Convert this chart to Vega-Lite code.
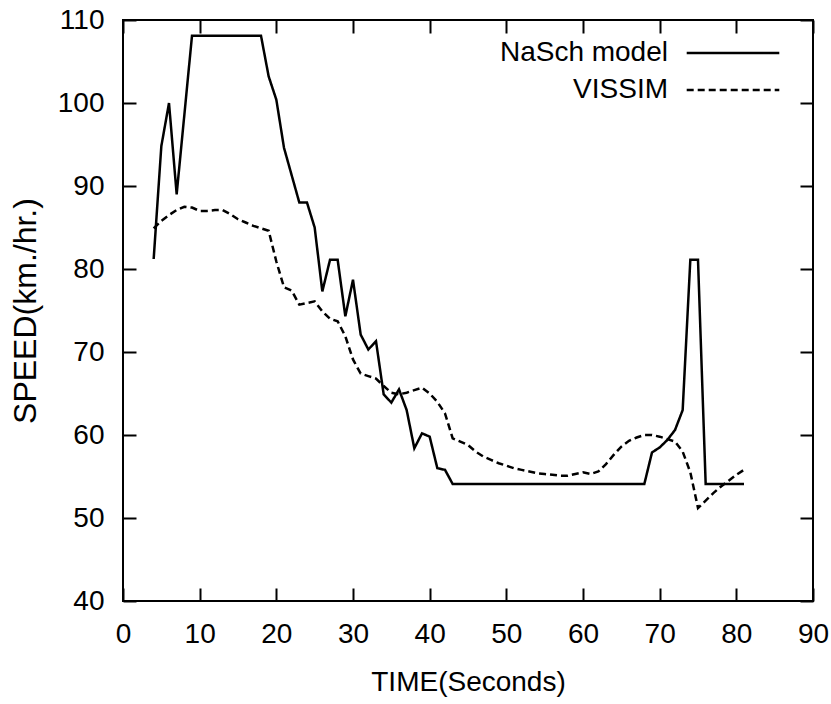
{
  "$schema": "https://vega.github.io/schema/vega-lite/v6.json",
  "autosize": "none",
  "width": 690,
  "height": 581,
  "padding": {"left": 123, "top": 20, "right": 18, "bottom": 103},
  "background": "white",
  "config": {
    "font": "Liberation Sans",
    "view": {"stroke": "black", "strokeWidth": 2},
    "axis": {
      "domain": false,
      "offset": -13,
      "ticks": true, "tickSize": 13, "tickColor": "black", "tickWidth": 2,
      "grid": false,
      "labelFont": "Liberation Sans", "labelFontSize": 28, "labelColor": "black",
      "titleFont": "Liberation Sans", "titleFontSize": 28, "titleColor": "black", "titleFontWeight": "normal",
      "labelFlush": false, "labelOverlap": false
    }
  },
  "datasets": {
    "speed": [
      {"t": 4, "v": 81.2, "series": "NaSch model"},
      {"t": 5, "v": 94.8, "series": "NaSch model"},
      {"t": 6, "v": 100.0, "series": "NaSch model"},
      {"t": 7, "v": 89.0, "series": "NaSch model"},
      {"t": 9, "v": 108.1, "series": "NaSch model"},
      {"t": 18, "v": 108.1, "series": "NaSch model"},
      {"t": 19, "v": 103.2, "series": "NaSch model"},
      {"t": 20, "v": 100.4, "series": "NaSch model"},
      {"t": 21, "v": 94.6, "series": "NaSch model"},
      {"t": 23, "v": 88.0, "series": "NaSch model"},
      {"t": 24, "v": 88.0, "series": "NaSch model"},
      {"t": 25, "v": 85.0, "series": "NaSch model"},
      {"t": 26, "v": 77.3, "series": "NaSch model"},
      {"t": 27, "v": 81.1, "series": "NaSch model"},
      {"t": 28, "v": 81.1, "series": "NaSch model"},
      {"t": 29, "v": 74.3, "series": "NaSch model"},
      {"t": 30, "v": 78.7, "series": "NaSch model"},
      {"t": 31, "v": 72.1, "series": "NaSch model"},
      {"t": 32, "v": 70.3, "series": "NaSch model"},
      {"t": 33, "v": 71.3, "series": "NaSch model"},
      {"t": 34, "v": 64.9, "series": "NaSch model"},
      {"t": 35, "v": 63.9, "series": "NaSch model"},
      {"t": 36, "v": 65.5, "series": "NaSch model"},
      {"t": 37, "v": 63.0, "series": "NaSch model"},
      {"t": 38, "v": 58.4, "series": "NaSch model"},
      {"t": 39, "v": 60.2, "series": "NaSch model"},
      {"t": 40, "v": 59.8, "series": "NaSch model"},
      {"t": 41, "v": 56.0, "series": "NaSch model"},
      {"t": 42, "v": 55.8, "series": "NaSch model"},
      {"t": 43, "v": 54.1, "series": "NaSch model"},
      {"t": 68, "v": 54.1, "series": "NaSch model"},
      {"t": 69, "v": 57.9, "series": "NaSch model"},
      {"t": 70, "v": 58.5, "series": "NaSch model"},
      {"t": 71, "v": 59.4, "series": "NaSch model"},
      {"t": 72, "v": 60.6, "series": "NaSch model"},
      {"t": 73, "v": 63.0, "series": "NaSch model"},
      {"t": 74, "v": 81.1, "series": "NaSch model"},
      {"t": 75, "v": 81.1, "series": "NaSch model"},
      {"t": 76, "v": 54.1, "series": "NaSch model"},
      {"t": 81, "v": 54.1, "series": "NaSch model"},
      {"t": 4, "v": 84.9, "series": "VISSIM"},
      {"t": 5, "v": 85.8, "series": "VISSIM"},
      {"t": 6, "v": 86.5, "series": "VISSIM"},
      {"t": 7, "v": 87.1, "series": "VISSIM"},
      {"t": 8, "v": 87.5, "series": "VISSIM"},
      {"t": 9, "v": 87.4, "series": "VISSIM"},
      {"t": 10, "v": 87.0, "series": "VISSIM"},
      {"t": 11, "v": 87.0, "series": "VISSIM"},
      {"t": 12, "v": 87.1, "series": "VISSIM"},
      {"t": 13, "v": 87.1, "series": "VISSIM"},
      {"t": 14, "v": 86.6, "series": "VISSIM"},
      {"t": 15, "v": 86.0, "series": "VISSIM"},
      {"t": 16, "v": 85.6, "series": "VISSIM"},
      {"t": 17, "v": 85.2, "series": "VISSIM"},
      {"t": 18, "v": 84.9, "series": "VISSIM"},
      {"t": 19, "v": 84.6, "series": "VISSIM"},
      {"t": 20, "v": 80.9, "series": "VISSIM"},
      {"t": 21, "v": 77.8, "series": "VISSIM"},
      {"t": 22, "v": 77.4, "series": "VISSIM"},
      {"t": 23, "v": 75.7, "series": "VISSIM"},
      {"t": 24, "v": 75.9, "series": "VISSIM"},
      {"t": 25, "v": 76.1, "series": "VISSIM"},
      {"t": 26, "v": 74.9, "series": "VISSIM"},
      {"t": 27, "v": 74.0, "series": "VISSIM"},
      {"t": 28, "v": 73.7, "series": "VISSIM"},
      {"t": 29, "v": 71.9, "series": "VISSIM"},
      {"t": 30, "v": 69.1, "series": "VISSIM"},
      {"t": 31, "v": 67.4, "series": "VISSIM"},
      {"t": 32, "v": 67.1, "series": "VISSIM"},
      {"t": 33, "v": 66.8, "series": "VISSIM"},
      {"t": 34, "v": 65.9, "series": "VISSIM"},
      {"t": 35, "v": 65.1, "series": "VISSIM"},
      {"t": 36, "v": 64.9, "series": "VISSIM"},
      {"t": 37, "v": 65.1, "series": "VISSIM"},
      {"t": 38, "v": 65.4, "series": "VISSIM"},
      {"t": 39, "v": 65.7, "series": "VISSIM"},
      {"t": 40, "v": 65.0, "series": "VISSIM"},
      {"t": 41, "v": 64.0, "series": "VISSIM"},
      {"t": 42, "v": 62.6, "series": "VISSIM"},
      {"t": 43, "v": 59.6, "series": "VISSIM"},
      {"t": 44, "v": 59.2, "series": "VISSIM"},
      {"t": 45, "v": 58.8, "series": "VISSIM"},
      {"t": 46, "v": 58.0, "series": "VISSIM"},
      {"t": 47, "v": 57.4, "series": "VISSIM"},
      {"t": 48, "v": 57.0, "series": "VISSIM"},
      {"t": 49, "v": 56.6, "series": "VISSIM"},
      {"t": 50, "v": 56.3, "series": "VISSIM"},
      {"t": 51, "v": 56.0, "series": "VISSIM"},
      {"t": 52, "v": 55.8, "series": "VISSIM"},
      {"t": 53, "v": 55.6, "series": "VISSIM"},
      {"t": 54, "v": 55.4, "series": "VISSIM"},
      {"t": 55, "v": 55.3, "series": "VISSIM"},
      {"t": 56, "v": 55.2, "series": "VISSIM"},
      {"t": 57, "v": 55.1, "series": "VISSIM"},
      {"t": 58, "v": 55.1, "series": "VISSIM"},
      {"t": 59, "v": 55.3, "series": "VISSIM"},
      {"t": 60, "v": 55.5, "series": "VISSIM"},
      {"t": 61, "v": 55.3, "series": "VISSIM"},
      {"t": 62, "v": 55.6, "series": "VISSIM"},
      {"t": 63, "v": 56.5, "series": "VISSIM"},
      {"t": 64, "v": 57.6, "series": "VISSIM"},
      {"t": 65, "v": 58.6, "series": "VISSIM"},
      {"t": 66, "v": 59.3, "series": "VISSIM"},
      {"t": 67, "v": 59.7, "series": "VISSIM"},
      {"t": 68, "v": 60.0, "series": "VISSIM"},
      {"t": 69, "v": 60.0, "series": "VISSIM"},
      {"t": 70, "v": 59.8, "series": "VISSIM"},
      {"t": 71, "v": 59.5, "series": "VISSIM"},
      {"t": 72, "v": 59.2, "series": "VISSIM"},
      {"t": 73, "v": 58.0, "series": "VISSIM"},
      {"t": 74, "v": 55.5, "series": "VISSIM"},
      {"t": 75, "v": 51.2, "series": "VISSIM"},
      {"t": 76, "v": 52.1, "series": "VISSIM"},
      {"t": 77, "v": 53.0, "series": "VISSIM"},
      {"t": 78, "v": 53.8, "series": "VISSIM"},
      {"t": 79, "v": 54.5, "series": "VISSIM"},
      {"t": 80, "v": 55.2, "series": "VISSIM"},
      {"t": 81, "v": 55.8, "series": "VISSIM"}
    ]
  },
  "data": {"name": "speed"},
  "layer": [
    {
      "mark": {"type": "point", "opacity": 0},
      "encoding": {
        "x": {
          "field": "t", "type": "quantitative",
          "scale": {"domain": [0, 90], "nice": false, "zero": false},
          "axis": {"orient": "top", "values": [0, 10, 20, 30, 40, 50, 60, 70, 80, 90], "labels": false, "title": null}
        },
        "y": {
          "field": "v", "type": "quantitative",
          "scale": {"domain": [40, 110], "nice": false, "zero": false},
          "axis": {"orient": "right", "values": [40, 50, 60, 70, 80, 90, 100, 110], "labels": false, "title": null}
        }
      }
    },
    {
      "mark": {"type": "point", "opacity": 0},
      "encoding": {
        "x": {
          "field": "t", "type": "quantitative",
          "axis": {"orient": "bottom", "values": [0, 10, 20, 30, 40, 50, 60, 70, 80, 90], "labelPadding": 19, "title": "TIME(Seconds)", "titlePadding": 20}
        },
        "y": {
          "field": "v", "type": "quantitative",
          "axis": {"orient": "left", "values": [40, 50, 60, 70, 80, 90, 100, 110], "labelPadding": 19, "title": "SPEED(km./hr.)", "titleFontSize": 32, "titlePadding": 15}
        }
      }
    },
    {
      "mark": {"type": "line", "color": "black", "strokeWidth": 2.5, "clip": true},
      "encoding": {
        "x": {"field": "t", "type": "quantitative", "axis": null},
        "y": {"field": "v", "type": "quantitative", "axis": null},
        "strokeDash": {
          "field": "series", "type": "nominal",
          "scale": {"domain": ["NaSch model", "VISSIM"], "range": [[1, 0], [7, 4]]},
          "legend": {
            "title": null,
            "orient": "none",
            "legendX": 545,
            "legendY": 19,
            "padding": 0,
            "symbolType": "M-9.26,0H9.26",
            "symbolSize": 100,
            "symbolStrokeWidth": 2.5,
            "symbolStrokeColor": "black",
            "labelFont": "Liberation Sans",
            "labelFontSize": 28,
            "labelColor": "black",
            "labelLimit": 400,
            "rowPadding": 9,
            "encode": {
              "symbols": {"update": {"x": {"value": 65}, "stroke": {"value": "black"}, "strokeWidth": {"value": 2.5}}},
              "labels": {"update": {"x": {"value": 0}, "align": {"value": "right"}}}
            }
          }
        }
      }
    }
  ],
  "resolve": {"axis": {"x": "independent", "y": "independent"}}
}
